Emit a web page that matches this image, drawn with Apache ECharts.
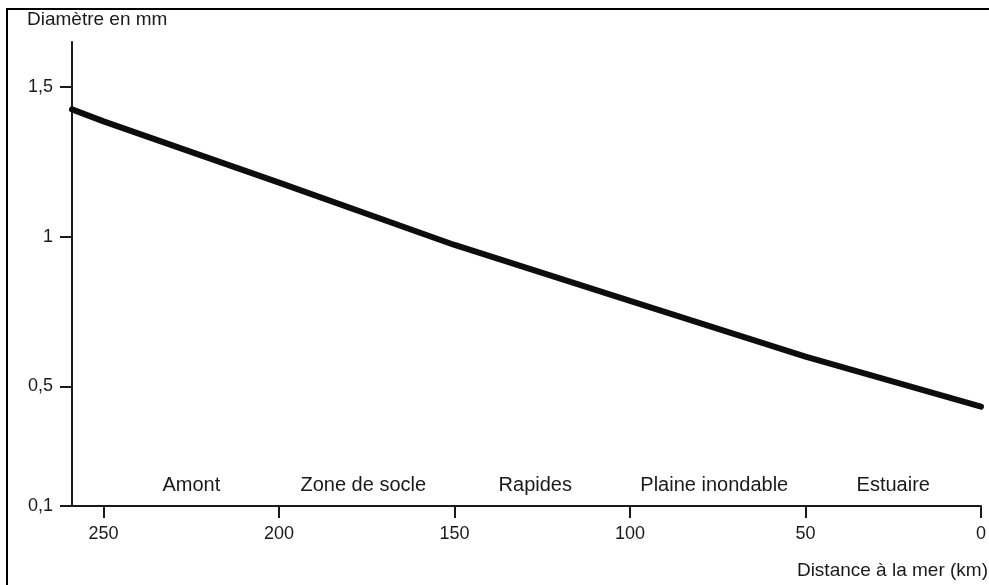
<!DOCTYPE html>
<html>
<head>
<meta charset="utf-8">
<title>Diamètre en mm</title>
<script src="https://cdn.jsdelivr.net/npm/echarts@6/dist/echarts.min.js"></script>
<style>
  html, body { margin: 0; padding: 0; background: #fff; }
  #chart { width: 989px; height: 585px; }
</style>
</head>
<body>
<div id="chart"></div>
<script>
// distance to the sea (km) and grain diameter (mm)
const distances = [259, 250, 200, 150, 100, 50, 0]
const diameters = [1.425, 1.385, 1.18, 0.972, 0.785, 0.599, 0.432]

const xTicks = [250, 200, 150, 100, 50, 0]
const yTicks = [0.1, 0.5, 1, 1.5]

// river zones, placed at their centre along the distance axis
const zones = ['Amont', 'Zone de socle', 'Rapides', 'Plaine inondable', 'Estuaire']
const zoneCenters = [225, 176, 127, 76, 25]

const ink = '#1a1a1a'
const font = 'Liberation Sans, Arial, sans-serif'

const chart = echarts.init(document.getElementById('chart'))

chart.setOption({
  backgroundColor: '#fff',
  animation: false,
  grid: {
    left: 72,
    right: 8,
    top: 42,
    bottom: 79
  },
  xAxis: {
    type: 'value',
    inverse: true,
    min: 0,
    max: 259,
    axisLine: {
      show: true,
      onZero: false,
      lineStyle: { color: ink, width: 2 }
    },
    axisTick: {
      show: true,
      customValues: xTicks,
      length: 12,
      lineStyle: { color: ink, width: 2 }
    },
    axisLabel: {
      customValues: xTicks,
      margin: 19,
      fontSize: 18,
      fontFamily: font,
      color: ink
    },
    splitLine: { show: false }
  },
  yAxis: {
    type: 'value',
    min: 0.1,
    max: 1.65,
    axisLine: {
      show: true,
      onZero: false,
      lineStyle: { color: ink, width: 2 }
    },
    axisTick: {
      show: true,
      customValues: yTicks,
      length: 12,
      lineStyle: { color: ink, width: 2 }
    },
    axisLabel: {
      customValues: yTicks,
      margin: 19,
      fontSize: 18,
      fontFamily: font,
      color: ink,
      formatter: v => String(v).replace('.', ',')
    },
    splitLine: { show: false }
  },
  series: [
    {
      type: 'line',
      data: distances.map((d, i) => [d, diameters[i]]),
      showSymbol: false,
      lineStyle: { color: '#0d0d0d', width: 6, cap: 'round' }
    }
  ]
})

const labelY = chart.getHeight() - 100
const zoneTexts = zones.map((name, i) => ({
  type: 'text',
  x: chart.convertToPixel({ xAxisIndex: 0 }, zoneCenters[i]),
  y: labelY,
  style: {
    text: name,
    align: 'center',
    verticalAlign: 'middle',
    fontSize: 20,
    fontFamily: font,
    fill: ink
  }
}))

chart.setOption({
  graphic: [
    {
      type: 'rect',
      shape: { x: 7, y: 9, width: 1000, height: 600 },
      style: { fill: 'none', stroke: '#000', lineWidth: 2 }
    },
    {
      type: 'text',
      x: 27,
      y: 20,
      style: {
        text: 'Diamètre en mm',
        verticalAlign: 'middle',
        fontSize: 19,
        fontFamily: font,
        fill: ink
      }
    },
    {
      type: 'text',
      x: 988,
      y: 571,
      style: {
        text: 'Distance à la mer (km)',
        align: 'right',
        verticalAlign: 'middle',
        fontSize: 19,
        fontFamily: font,
        fill: ink
      }
    },
    ...zoneTexts
  ]
})
</script>
</body>
</html>
